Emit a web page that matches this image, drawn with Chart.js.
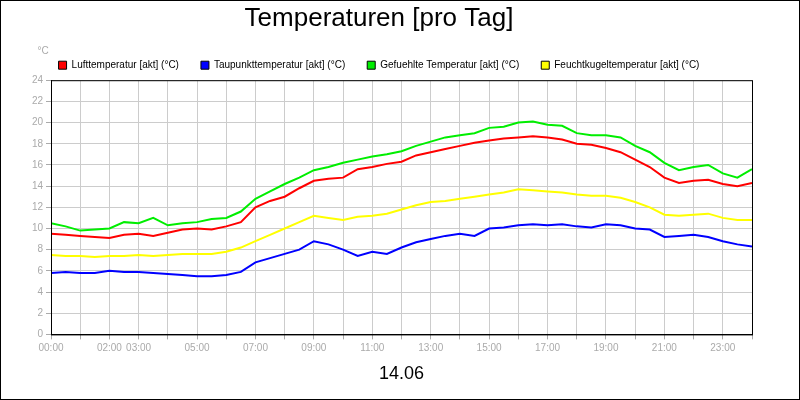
<!DOCTYPE html>
<html><head><script src="https://cdn.jsdelivr.net/npm/chart.js@4"></script>
<style>body{margin:0}#w{width:798px;height:398px;border:1px solid #000;background:#fff}</style></head>
<body><div id="w"><canvas id="c"></canvas></div>
<script>
const hours=[0,0.5,1,1.5,2,2.5,3,3.5,4,4.5,5,5.5,6,6.5,7,7.5,8,8.5,9,9.5,10,10.5,11,11.5,12,12.5,13,13.5,14,14.5,15,15.5,16,16.5,17,17.5,18,18.5,19,19.5,20,20.5,21,21.5,22,22.5,23,23.5,24];
const luft=[9.5,9.4,9.3,9.2,9.1,9.4,9.5,9.3,9.6,9.9,10.0,9.9,10.2,10.6,12.0,12.6,13.0,13.8,14.5,14.7,14.8,15.6,15.8,16.1,16.3,16.9,17.2,17.5,17.8,18.1,18.3,18.5,18.6,18.7,18.6,18.4,18.0,17.9,17.6,17.2,16.5,15.8,14.8,14.3,14.5,14.6,14.2,14.0,14.3];
const taupunkt=[5.8,5.9,5.8,5.8,6.0,5.9,5.9,5.8,5.7,5.6,5.5,5.5,5.6,5.9,6.8,7.2,7.6,8.0,8.8,8.5,8.0,7.4,7.8,7.6,8.2,8.7,9.0,9.3,9.5,9.3,10.0,10.1,10.3,10.4,10.3,10.4,10.2,10.1,10.4,10.3,10.0,9.9,9.2,9.3,9.4,9.2,8.8,8.5,8.3];
const gefuehlt=[10.5,10.2,9.8,9.9,10.0,10.6,10.5,11.0,10.3,10.5,10.6,10.9,11.0,11.6,12.8,13.5,14.2,14.8,15.5,15.8,16.2,16.5,16.8,17.0,17.3,17.8,18.2,18.6,18.8,19.0,19.5,19.6,20.0,20.1,19.8,19.7,19.0,18.8,18.8,18.6,17.8,17.2,16.2,15.5,15.8,16.0,15.2,14.8,15.6];
const feucht=[7.5,7.4,7.4,7.3,7.4,7.4,7.5,7.4,7.5,7.6,7.6,7.6,7.8,8.2,8.8,9.4,10.0,10.6,11.2,11.0,10.8,11.1,11.2,11.4,11.8,12.2,12.5,12.6,12.8,13.0,13.2,13.4,13.7,13.6,13.5,13.4,13.2,13.1,13.1,12.9,12.5,12.0,11.3,11.2,11.3,11.4,11.0,10.8,10.8];
const tickLabels={0:"00:00",2:"02:00",3:"03:00",5:"05:00",7:"07:00",9:"09:00",11:"11:00",13:"13:00",15:"15:00",17:"17:00",19:"19:00",21:"21:00",23:"23:00"};
const mk=(l,d,c)=>({label:l,data:hours.map((h,i)=>({x:h,y:d[i]})),borderColor:c,backgroundColor:c,borderWidth:2,pointRadius:0,tension:0});
const extra={id:'extra',afterDraw(ch){const x=ch.ctx;x.save();x.fillStyle='#aaa';x.font='10px Arial';x.textAlign='center';x.fillText('°C',42,50);
const a=ch.chartArea;x.strokeStyle='#000';x.lineWidth=1;x.strokeRect(a.left+0.5,a.top+0.5,a.right-a.left,a.bottom-a.top);x.restore();}};
new Chart(document.getElementById('c'),{type:'line',data:{datasets:[mk('Lufttemperatur [akt] (°C)',luft,'#ff0000'),mk('Taupunkttemperatur [akt] (°C)',taupunkt,'#0000ff'),mk('Gefuehlte Temperatur [akt] (°C)',gefuehlt,'#00ee00'),mk('Feuchtkugeltemperatur [akt] (°C)',feucht,'#ffff00')]},
options:{responsive:true,maintainAspectRatio:false,animation:false,layout:{padding:{left:5,right:47,top:0,bottom:10}},
plugins:{title:{display:true,text:'Temperaturen [pro Tag]',color:'#000',font:{size:26,family:'Arial',weight:'normal'},padding:{top:2,bottom:4}},
legend:{labels:{boxWidth:8,boxHeight:8,color:'#000',font:{size:10,family:'Arial'},padding:22,generateLabels:ch=>ch.data.datasets.map((d,i)=>({text:d.label,fillStyle:d.borderColor,strokeStyle:'#000',lineWidth:1,datasetIndex:i}))}},tooltip:{enabled:false}},
scales:{x:{type:'linear',min:0,max:24,ticks:{stepSize:1,autoSkip:false,maxRotation:0,color:'#aaa',font:{size:10,family:'Arial'},callback:v=>tickLabels[v]||''},grid:{color:'#ccc',tickColor:'#aaa',tickLength:5},border:{color:'#000'},
title:{display:true,text:'14.06',color:'#000',font:{size:18,family:'Arial'},padding:{top:6}}},
y:{min:0,max:24,ticks:{stepSize:2,color:'#aaa',font:{size:10,family:'Arial'}},grid:{color:'#ccc',tickColor:'#aaa',tickLength:5},border:{color:'#000'},afterFit:s=>{s.width=45}}}},plugins:[extra]});
</script></body></html>
